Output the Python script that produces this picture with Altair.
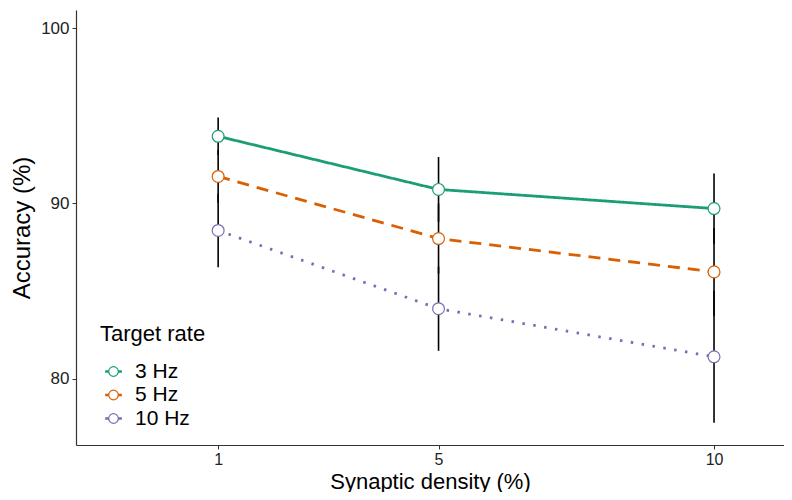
import altair as alt
import pandas as pd

density = [1, 5, 10]
series = ["3 Hz", "5 Hz", "10 Hz"]
acc_3 = [93.83, 90.80, 89.71]
acc_5 = [91.54, 88.00, 86.10]
acc_10 = [88.46, 84.00, 81.26]
err_3 = [1.07, 1.85, 2.00]
err_5 = [1.50, 2.00, 2.50]
err_10 = [2.10, 2.40, 3.76]

rows = []
for name, acc, err in [("3 Hz", acc_3, err_3), ("5 Hz", acc_5, err_5), ("10 Hz", acc_10, err_10)]:
    for d, a, e in zip(density, acc, err):
        rows.append({"density": d, "rate": name, "acc": a, "lo": a - e, "hi": a + e})
df = pd.DataFrame(rows)

colors = ["#1b9e77", "#d95f02", "#7570b3"]
dashes = [[1, 0], [12, 8], [2.5, 8.5]]
xscale = alt.Scale(domain=[-1.58, 11.27], nice=False, zero=False)
yscale = alt.Scale(domain=[76.23, 101.03], nice=False, zero=False)
cscale = alt.Scale(domain=series, range=colors)

base = alt.Chart(df)

err = base.mark_rule(color="black", strokeWidth=1.6).encode(
    x=alt.X("density:Q", scale=xscale),
    y=alt.Y("lo:Q", scale=yscale),
    y2="hi:Q",
)

line_layers = []
for name, col, dash in zip(series, colors, dashes):
    line_layers.append(
        base.transform_filter(alt.datum.rate == name).mark_line(
            strokeWidth=2.8, strokeCap="butt", color=col, strokeDash=dash
        ).encode(
            x=alt.X("density:Q", scale=xscale),
            y=alt.Y("acc:Q", scale=yscale),
        )
    )

legend_symbol = ("M -1 -0.09 L -0.62 -0.09 L -0.62 0.09 L -1 0.09 Z "
                 "M 0.62 -0.09 L 1 -0.09 L 1 0.09 L 0.62 0.09 Z "
                 "M 0.62 0 A 0.62 0.62 0 1 1 -0.62 0 A 0.62 0.62 0 1 1 0.62 0 Z")

points = base.mark_point(shape="circle", filled=False, fill="white", opacity=1,
                         size=140, strokeWidth=1.2).encode(
    x=alt.X("density:Q", scale=xscale,
            axis=alt.Axis(values=density, title="Synaptic density (%)", grid=False,
                          labelFontSize=16, titleFontSize=22, titlePadding=4, labelPadding=2)),
    y=alt.Y("acc:Q", scale=yscale,
            axis=alt.Axis(values=[80, 90, 100], title="Accuracy (%)", grid=False,
                          labelFontSize=17, titleFontSize=24, titlePadding=6, labelPadding=3)),
    color=alt.Color("rate:N", scale=cscale, sort=series,
                    legend=alt.Legend(title="Target rate", orient="none", legendX=24, legendY=314,
                                      symbolType=legend_symbol, symbolFillColor="white",
                                      symbolStrokeWidth=1.2, symbolSize=240, symbolOffset=3,
                                      symbolOpacity=1,
                                      titleFontSize=22, labelFontSize=21, titleFontWeight="normal",
                                      rowPadding=1.5, labelOffset=11, titlePadding=15, padding=0,
                                      titleColor="black", labelColor="black")),
)

chart = alt.layer(err, *line_layers, points).properties(
    width=776, height=484,
    autosize=alt.AutoSizeParams(type="fit", contains="padding"),
    padding={"left": 2, "top": 2, "right": 0, "bottom": 0}
).configure(font="Liberation Sans").configure_view(stroke=None).configure_axis(
    domainColor="#333333", domainWidth=1.2, tickColor="#333333", tickSize=4,
    labelColor="#222222", titleFontWeight="normal", titleColor="black"
)

chart.save("out.html", embed_options={"renderer": "svg", "actions": False})
